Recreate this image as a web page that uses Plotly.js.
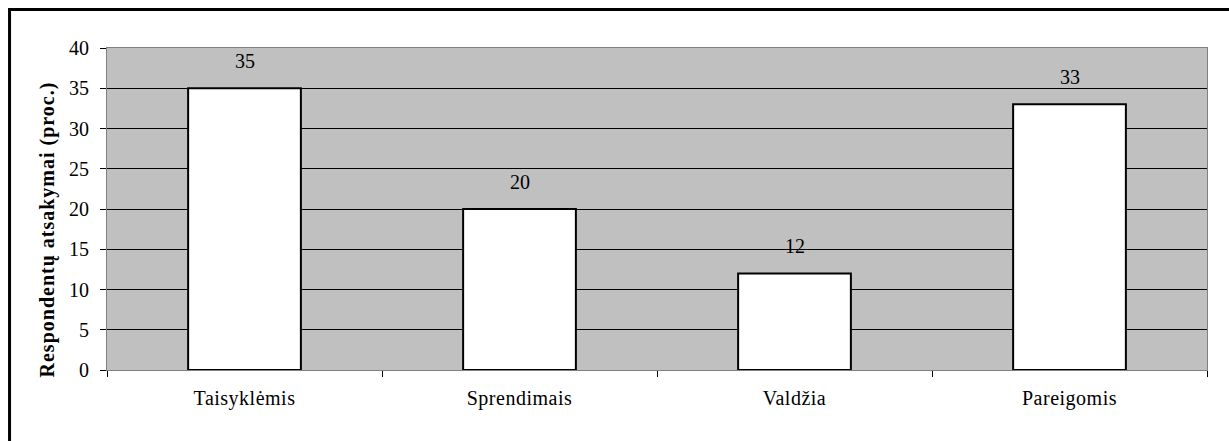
<!DOCTYPE html>
<html>
<head>
<meta charset="utf-8">
<script src="https://cdn.plot.ly/plotly-3.0.1.min.js"></script>
<style>
html,body{margin:0;padding:0;background:#fff;}
#chart{width:1229px;height:441px;}
#chart text[data-unformatted^="Respond"]{letter-spacing:1px;}
#chart .xtick text{letter-spacing:0.5px;}
</style>
</head>
<body>
<div id="chart"></div>
<script>
const categories = ["Taisyklėmis", "Sprendimais", "Valdžia", "Pareigomis"];
const values = [35, 20, 12, 33];
const yTicks = [0, 5, 10, 15, 20, 25, 30, 35, 40];
const yTitle = "Respondentų atsakymai (proc.)";

const serif = "Times New Roman, Liberation Serif, serif";

const trace = {
  type: "bar",
  x: categories,
  y: values,
  marker: { color: "#ffffff", line: { color: "#000000", width: 2 } },
  hoverinfo: "none"
};

const annotations = categories.map((c, i) => ({
  x: c, y: values[i], xref: "x", yref: "y",
  text: String(values[i]), showarrow: false,
  yanchor: "middle", yshift: 27,
  font: { family: serif, size: 20, color: "#000", weight: "normal" }
}));

annotations.push({
  xref: "paper", yref: "paper", x: -0.0536, y: 0.435,
  xanchor: "center", yanchor: "middle", textangle: -90,
  text: yTitle, showarrow: false,
  font: { family: serif, size: 20, color: "#000", weight: "bold" }
});

const layout = {
  width: 1229, height: 441,
  margin: { l: 107, r: 22, t: 48, b: 71, pad: 0 },
  paper_bgcolor: "#ffffff",
  plot_bgcolor: "#c0c0c0",
  bargap: 0.59,
  showlegend: false,
  font: { family: serif, color: "#000" },
  xaxis: {
    type: "category",
    showline: true, linecolor: "#808080", linewidth: 1, mirror: true,
    ticks: "outside", tickson: "boundaries", ticklen: 6, tickcolor: "#000", tickwidth: 1,
    ticklabelstandoff: 10,
    tickfont: { family: serif, size: 20, color: "#000", weight: "normal" },
    showgrid: false, automargin: false
  },
  yaxis: {
    range: [0, 40], tickvals: yTicks, ticktext: yTicks.map(String),
    showline: true, linecolor: "#808080", linewidth: 1, mirror: true,
    ticks: "outside", ticklen: 6, tickcolor: "#000", tickwidth: 1,
    ticklabelstandoff: 7,
    tickfont: { family: serif, size: 20, color: "#000", weight: "normal" },
    showgrid: true, gridcolor: "#000", gridwidth: 1,
    zeroline: true, zerolinecolor: "#000", zerolinewidth: 1,
    automargin: false
  },
  annotations: annotations,
  shapes: [{
    type: "rect", xref: "paper", yref: "paper",
    x0: -0.0886, x1: 1.0327, y0: -0.5, y1: 1.1196,
    line: { color: "#000", width: 3 }, fillcolor: "rgba(0,0,0,0)", layer: "above"
  }]
};

Plotly.newPlot("chart", [trace], layout, { staticPlot: true, displayModeBar: false });
</script>
</body>
</html>
